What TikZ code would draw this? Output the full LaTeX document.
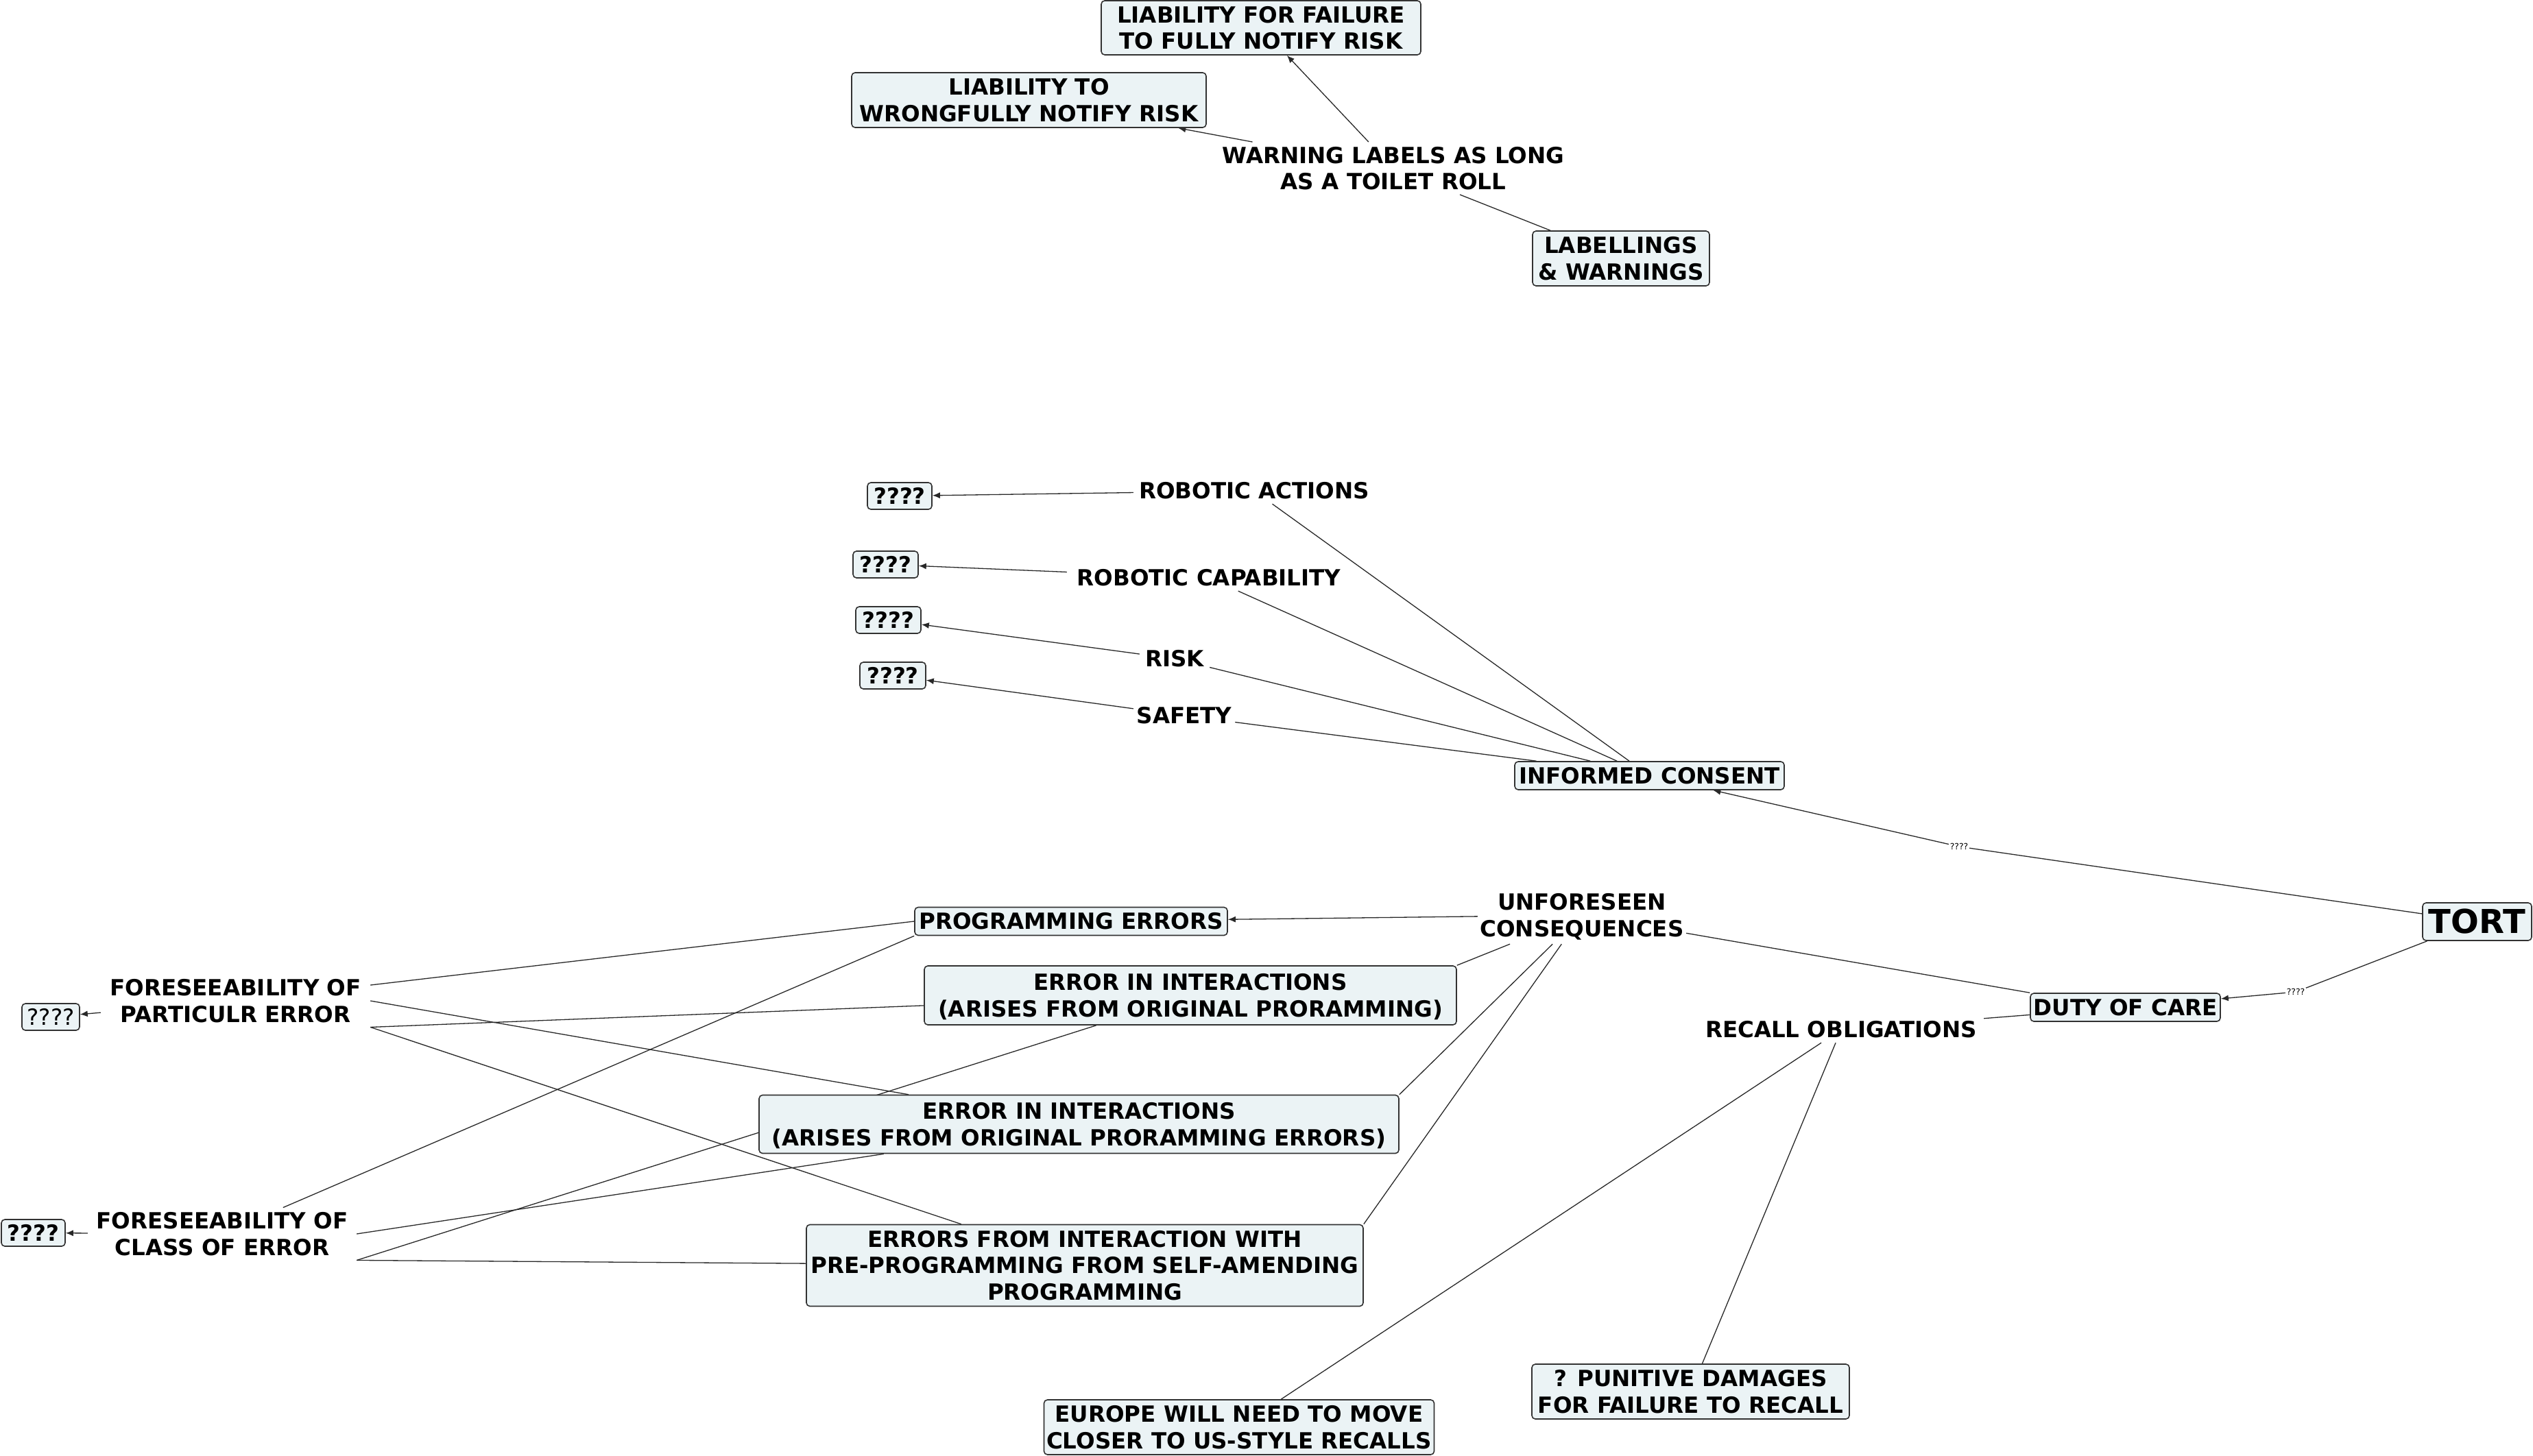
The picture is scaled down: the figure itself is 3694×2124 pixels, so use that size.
\documentclass[tikz,border=0pt]{standalone}
\usepackage{fontspec}
\setmainfont{DejaVu Sans}
\usetikzlibrary{arrows.meta,backgrounds}
\definecolor{boxfill}{RGB}{235,243,245}
\definecolor{boxline}{RGB}{50,50,50}
\definecolor{lineclr}{RGB}{40,40,40}
\newcommand{\mainf}{\bfseries\fontsize{32.5}{38.5}\selectfont}
\newcommand{\regf}{\mdseries\fontsize{32.5}{38.5}\selectfont}
\newcommand{\tortf}{\bfseries\fontsize{48}{56}\selectfont}
\newcommand{\smallf}{\mdseries\fontsize{12.5}{15}\selectfont}
\newcommand{\mys}{\rule[-7.1pt]{0pt}{38pt}}
\tikzset{
  box/.style={draw=boxline, fill=boxfill, rounded corners=5pt, line width=1.6pt, inner sep=0pt, align=center, font=\mainf},
  txt/.style={inner sep=0pt, align=center, font=\mainf},
  conn/.style={draw=lineclr, line width=1.3pt},
  arr/.style={conn, -{Latex[length=11pt,width=9pt]}},
  elab/.style={fill=white, inner sep=1.5pt, font=\smallf}
}
\begin{document}
\begin{tikzpicture}[x=1pt,y=-1pt]
\useasboundingbox (0,0) rectangle (3694,2124);
% boxed nodes
\node[box, minimum width=466pt, minimum height=79pt] (lff) at (1839,40.5) {\mys LIABILITY FOR FAILURE\\\mys TO FULLY NOTIFY RISK};
\node[box, minimum width=517pt, minimum height=80pt] (lto) at (1500.5,146) {\mys LIABILITY TO\\\mys WRONGFULLY NOTIFY RISK};
\node[box, minimum width=258pt, minimum height=80pt] (lw) at (2364,377) {\mys LABELLINGS\\\mys \& WARNINGS};
\node[box, minimum width=94pt, minimum height=39pt] (q1) at (1312,723.5) {\mys ????};
\node[box, minimum width=95pt, minimum height=39pt] (q2) at (1291.5,823.5) {\mys ????};
\node[box, minimum width=95pt, minimum height=39pt] (q3) at (1295.5,904.5) {\mys ????};
\node[box, minimum width=96pt, minimum height=39pt] (q4) at (1302,985.5) {\mys ????};
\node[box, minimum width=393pt, minimum height=41pt] (ic) at (2405.5,1131.5) {\mys INFORMED CONSENT};
\node[box, font=\tortf, minimum width=159pt, minimum height=55pt] (tort) at (3612.5,1344.5) {TORT};
\node[box, minimum width=277pt, minimum height=41pt] (doc) at (3099.5,1469.5) {\mys DUTY OF CARE};
\node[box, minimum width=456pt, minimum height=41pt] (pe) at (1562,1344) {\mys PROGRAMMING ERRORS};
\node[box, minimum width=776pt, minimum height=86pt] (ei1) at (1736,1452) {\mys ERROR IN INTERACTIONS\\\mys (ARISES FROM ORIGINAL PRORAMMING)};
\node[box, minimum width=933pt, minimum height=85pt] (ei2) at (1573.5,1640) {\mys ERROR IN INTERACTIONS\\\mys (ARISES FROM ORIGINAL PRORAMMING ERRORS)};
\node[box, minimum width=812pt, minimum height=119pt] (efi) at (1582,1846) {\mys ERRORS FROM INTERACTION WITH\\\mys PRE-PROGRAMMING FROM SELF-AMENDING\\\mys PROGRAMMING};
\node[box, font=\regf, minimum width=84pt, minimum height=39pt] (qp) at (74,1483.5) {\mys ????};
\node[box, minimum width=93pt, minimum height=39pt] (qc) at (48.5,1798.5) {\mys ????};
\node[box, minimum width=569pt, minimum height=80pt] (eu) at (1807,2082) {\mys EUROPE WILL NEED TO MOVE\\\mys CLOSER TO US-STYLE RECALLS};
\node[box, minimum width=463pt, minimum height=80pt] (pd) at (2465.5,2030) {\mys ? PUNITIVE DAMAGES\\\mys FOR FAILURE TO RECALL};
% plain text nodes
\node[txt, minimum width=512pt, minimum height=75pt] (wl) at (2032,245.5) {\mys WARNING LABELS AS LONG\\\mys AS A TOILET ROLL};
\node[txt, minimum width=352pt, minimum height=36pt] (ra) at (1829,716) {\mys ROBOTIC ACTIONS};
\node[txt, minimum width=414pt, minimum height=38pt] (rc) at (1763,843) {\mys ROBOTIC CAPABILITY};
\node[txt, minimum width=102pt, minimum height=28pt] (risk) at (1713,961) {\mys RISK};
\node[txt, minimum width=148pt, minimum height=28pt] (safety) at (1727,1044) {\mys SAFETY};
\node[txt, minimum width=416pt, minimum height=36pt] (ro) at (2685,1502) {\mys RECALL OBLIGATIONS};
\node[txt, minimum width=304pt, minimum height=84pt] (uc) at (2307,1335) {\mys UNFORESEEN\\\mys CONSEQUENCES};
\node[txt, minimum width=393pt, minimum height=70pt] (fpe) at (343.5,1460) {\mys FORESEEABILITY OF\\\mys PARTICULR ERROR};
\node[txt, minimum width=392pt, minimum height=72pt] (fce) at (324,1800) {\mys FORESEEABILITY OF\\\mys CLASS OF ERROR};
% edge label positions
\coordinate (c1) at (2857,1235);
\coordinate (c2) at (3348,1447);
\begin{scope}[on background layer]
\draw[arr] (wl) -- (lff);
\draw[arr] (wl) -- (lto);
\draw[conn] (lw) -- (wl);
\draw[arr] (ra) -- (q1);
\draw[arr] (rc) -- (q2);
\draw[arr] (risk) -- (q3);
\draw[arr] (safety) -- (q4);
\draw[conn] (ic) -- (ra);
\draw[conn] (ic) -- (rc);
\draw[conn] (ic) -- (risk);
\draw[conn] (ic) -- (safety);
\draw[arr] (tort) -- (c1) -- (ic);
\draw[arr] (tort) -- (c2) -- (doc);
\draw[arr] (uc) -- (pe);
\draw[conn] (uc) -- (ei1.north east);
\draw[conn] (uc) -- (ei2.north east);
\draw[conn] (uc) -- (efi.north east);
\draw[conn] (uc) -- (doc.north west);
\draw[conn] (doc) -- (ro);
\draw[conn] (ro) -- (eu);
\draw[conn] (ro) -- (pd);
\draw[arr] (fpe) -- (qp);
\draw[arr] (fce) -- (qc);
\draw[conn] (fpe) -- (pe.west);
\draw[conn] (fpe.south east) -- (ei1);
\draw[conn] (fpe.east) -- (ei2);
\draw[conn] (fpe.south east) -- (efi);
\draw[conn] (fce) -- (pe.south west);
\draw[conn] (fce.east) -- (ei2);
\draw[conn] (fce.south east) -- (ei1);
\draw[conn] (fce.south east) -- (efi);
\end{scope}
\node[elab] (l1) at (c1) {????};
\node[elab] (l2) at (c2) {????};
\end{tikzpicture}
\end{document}
